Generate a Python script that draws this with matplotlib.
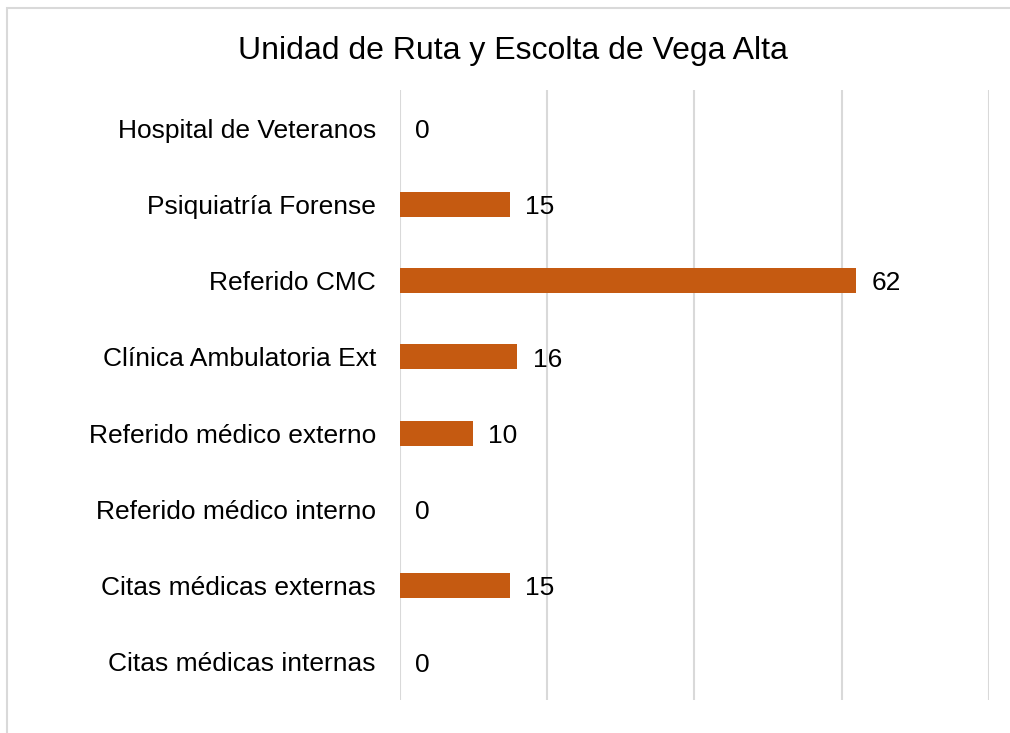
import matplotlib.pyplot as plt
from matplotlib.patches import Rectangle

# data (top to bottom as shown in the chart)
categories = [
    "Hospital de Veteranos",
    "Psiquiatría Forense",
    "Referido CMC",
    "Clínica Ambulatoria Ext",
    "Referido médico externo",
    "Referido médico interno",
    "Citas médicas externas",
    "Citas médicas internas",
]
values = [0, 15, 62, 16, 10, 0, 15, 0]

BAR_COLOR = "#C55A11"
GRID_COLOR = "#D9D9D9"

plt.rcParams["font.family"] = ["Liberation Sans", "DejaVu Sans"]

fig = plt.figure(figsize=(10.10, 7.33), dpi=100)
ax = fig.add_axes([399.5 / 1010, 1 - 700 / 733, (989 - 399.5) / 1010, (700 - 90) / 733])

ypos = list(range(len(categories)))
ax.barh(ypos, values, height=0.33, color=BAR_COLOR, zorder=3)

for y, v in zip(ypos, values):
    ax.annotate(str(v), (v, y), xytext=(11, -2), textcoords="offset points",
                ha="left", va="center", fontsize=19, color="black", zorder=4)

ax.set_xlim(0, 80)
ax.set_ylim(len(categories) - 0.5, -0.5)
ax.set_xticks([0, 20, 40, 60, 80])
ax.set_xticklabels([])
ax.set_yticks(ypos)
ax.set_yticklabels(categories, fontsize=19)
ax.tick_params(axis="both", length=0)
ax.tick_params(axis="y", pad=17)
ax.grid(axis="x", color=GRID_COLOR, linewidth=1.5, zorder=0)
for s in ax.spines.values():
    s.set_visible(False)

ax.set_title("Unidad de Ruta y Escolta de Vega Alta", fontsize=23, x=(512.5 - 399.5) / (989 - 399.5),
             y=1.0, pad=22)

# outer chart border (right and bottom edges fall outside the image)
fig.patches.append(Rectangle((7 / 1010, -0.1), 1.2, (733 - 8) / 733 + 0.1,
                             transform=fig.transFigure, fill=False,
                             edgecolor=GRID_COLOR, linewidth=1.5))

fig.savefig("out.png", dpi=100)
